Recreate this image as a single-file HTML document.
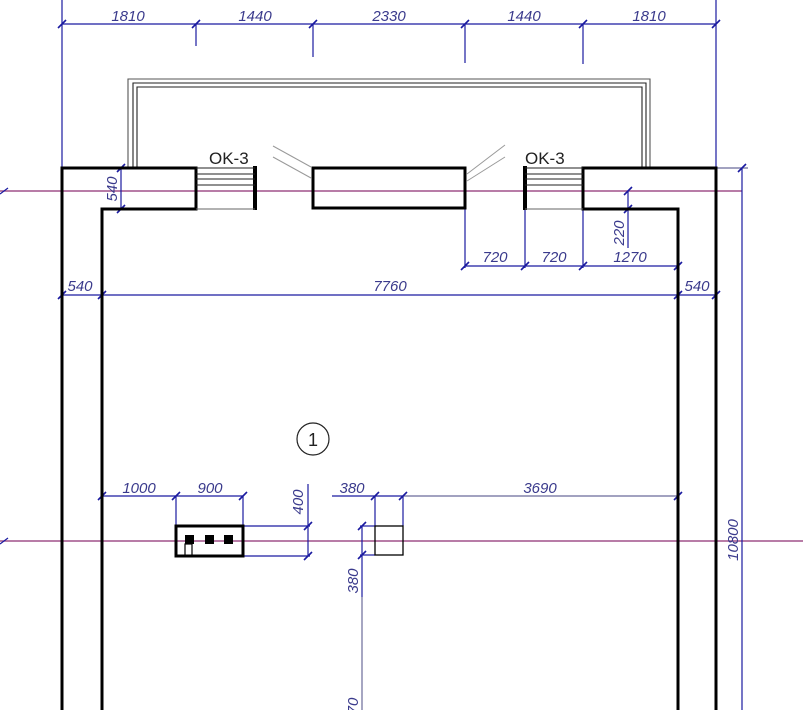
<!DOCTYPE html>
<html><head><meta charset="utf-8"><style>
html,body{margin:0;padding:0;background:#fff;}
svg{display:block;}
.dt{font-family:"Liberation Sans",sans-serif;font-style:italic;font-size:15px;fill:#3a3a8c;}
</style></head><body>
<svg width="803" height="710" viewBox="0 0 803 710" xmlns="http://www.w3.org/2000/svg">
<defs>
<g id="tk"><line x1="-4" y1="4" x2="4" y2="-4" stroke="#1a1aa0" stroke-width="1.6"/></g>
</defs>
<!-- axis lines -->
<line x1="0" y1="191" x2="742" y2="191" stroke="#a0508a" stroke-width="1.5"/>
<line x1="0" y1="541" x2="803" y2="541" stroke="#a0508a" stroke-width="1.5"/>
<line x1="0" y1="194" x2="8" y2="188" stroke="#1a1aa0" stroke-width="1.2"/>
<line x1="0" y1="544" x2="8" y2="538" stroke="#1a1aa0" stroke-width="1.2"/>

<g stroke="#1a1aa0" stroke-width="1.2" fill="none">
<!-- top dim -->
<line x1="62" y1="24" x2="716" y2="24"/>
<line x1="62" y1="0" x2="62" y2="168"/>
<line x1="716" y1="0" x2="716" y2="168"/>
<line x1="196" y1="24" x2="196" y2="46"/>
<line x1="313" y1="24" x2="313" y2="57"/>
<line x1="465" y1="24" x2="465" y2="63"/>
<line x1="583" y1="24" x2="583" y2="64"/>
<!-- right vertical -->
<line x1="742" y1="168" x2="742" y2="710"/>
<line x1="716" y1="168" x2="748" y2="168" stroke="#6a6a9a"/>
<!-- 540 left -->
<line x1="121" y1="168" x2="121" y2="209"/>
<!-- 720/720/1270 -->
<line x1="465" y1="266" x2="678" y2="266"/>
<line x1="465" y1="209" x2="465" y2="268"/>
<line x1="525" y1="209" x2="525" y2="268"/>
<line x1="583" y1="209" x2="583" y2="268"/>
<!-- 220 -->
<line x1="628" y1="191" x2="628" y2="248"/>
<!-- 540 7760 540 -->
<line x1="62" y1="295" x2="716" y2="295"/>
<!-- 1000 900 -->
<line x1="102" y1="496" x2="243" y2="496"/>
<line x1="176" y1="496" x2="176" y2="526"/>
<line x1="243" y1="496" x2="243" y2="526"/>
<!-- 400 -->
<line x1="308" y1="484" x2="308" y2="556"/>
<line x1="243" y1="526" x2="310" y2="526"/>
<line x1="243" y1="556" x2="310" y2="556"/>
<!-- 380 / 3690 -->
<line x1="332" y1="496" x2="403" y2="496"/>
<line x1="403" y1="496" x2="678" y2="496" stroke="#6a6a9a"/>
<line x1="375" y1="496" x2="375" y2="526"/>
<line x1="403" y1="496" x2="403" y2="526"/>
<!-- vertical 380 -->
<line x1="362" y1="526" x2="362" y2="597"/>
<line x1="362" y1="597" x2="362" y2="710" stroke="#6a6a9a"/>
<line x1="360" y1="526" x2="375" y2="526"/>
<line x1="360" y1="555" x2="375" y2="555"/>
</g>
<!-- ticks -->
<g>
<use href="#tk" x="62" y="24"/><use href="#tk" x="196" y="24"/><use href="#tk" x="313" y="24"/>
<use href="#tk" x="465" y="24"/><use href="#tk" x="583" y="24"/><use href="#tk" x="716" y="24"/>
<use href="#tk" x="742" y="168"/>
<use href="#tk" x="121" y="168"/><use href="#tk" x="121" y="209"/>
<use href="#tk" x="465" y="266"/><use href="#tk" x="525" y="266"/><use href="#tk" x="583" y="266"/><use href="#tk" x="678" y="266"/>
<use href="#tk" x="628" y="191"/><use href="#tk" x="628" y="209"/>
<use href="#tk" x="62" y="295"/><use href="#tk" x="102" y="295"/><use href="#tk" x="678" y="295"/><use href="#tk" x="716" y="295"/>
<use href="#tk" x="102" y="496"/><use href="#tk" x="176" y="496"/><use href="#tk" x="243" y="496"/>
<use href="#tk" x="308" y="526"/><use href="#tk" x="308" y="556"/>
<use href="#tk" x="375" y="496"/><use href="#tk" x="403" y="496"/><use href="#tk" x="678" y="496"/>
<use href="#tk" x="362" y="526"/><use href="#tk" x="362" y="555"/>
</g>

<!-- canopy -->
<g fill="none" stroke-width="1.1">
<path d="M128,168 V79 H650 V168" stroke="#555"/>
<path d="M133,168 V83 H646 V168" stroke="#222"/>
<path d="M137,168 V87 H642 V168" stroke="#222"/>
</g>
<!-- diagonals -->
<g stroke="#999" stroke-width="1">
<line x1="273" y1="146" x2="311" y2="167"/><line x1="273" y1="157" x2="311" y2="178"/>
<line x1="467" y1="174" x2="505" y2="145"/><line x1="467" y1="181" x2="505" y2="157"/>
</g>

<!-- walls -->
<g fill="none" stroke="#000" stroke-width="3">
<path d="M62,710 V168 H196 V209 H102 V710"/>
<path d="M716,710 V168 H583 V209 H678 V710"/>
<rect x="313" y="168" width="152" height="40"/>
<line x1="255" y1="166" x2="255" y2="210" stroke-width="4"/>
<line x1="525" y1="166" x2="525" y2="210" stroke-width="4"/>
</g>
<!-- windows -->
<g stroke="#222" stroke-width="1.1">
<line x1="196" y1="168" x2="255" y2="168"/><line x1="196" y1="174" x2="255" y2="174"/>
<line x1="196" y1="179" x2="255" y2="179"/><line x1="196" y1="185" x2="255" y2="185"/>
<line x1="196" y1="209" x2="255" y2="209" stroke="#666"/>
<line x1="525" y1="168" x2="583" y2="168"/><line x1="525" y1="174" x2="583" y2="174"/>
<line x1="525" y1="179" x2="583" y2="179"/><line x1="525" y1="185" x2="583" y2="185"/>
<line x1="525" y1="209" x2="583" y2="209" stroke="#666"/>
</g>
<text x="209" y="164" font-family="Liberation Sans,sans-serif" font-size="17" fill="#222">OK-3</text>
<text x="525" y="164" font-family="Liberation Sans,sans-serif" font-size="17" fill="#222">OK-3</text>

<!-- stove -->
<rect x="176" y="526" width="67" height="30" fill="none" stroke="#000" stroke-width="3"/>
<rect x="185" y="535" width="9" height="9" fill="#000"/>
<rect x="205" y="535" width="9" height="9" fill="#000"/>
<rect x="224" y="535" width="9" height="9" fill="#000"/>
<rect x="185" y="544" width="7" height="12" fill="none" stroke="#000" stroke-width="1.2"/>
<!-- small square -->
<rect x="375" y="526" width="28" height="29" fill="none" stroke="#000" stroke-width="1.3"/>

<!-- circle -->
<circle cx="313" cy="439" r="16" fill="none" stroke="#222" stroke-width="1.2"/>
<text x="313" y="446" text-anchor="middle" font-family="Liberation Sans,sans-serif" font-size="18" fill="#222">1</text>

<!-- labels -->
<text class="dt" x="128" y="21" text-anchor="middle">1810</text>
<text class="dt" x="255" y="21" text-anchor="middle">1440</text>
<text class="dt" x="389" y="21" text-anchor="middle">2330</text>
<text class="dt" x="524" y="21" text-anchor="middle">1440</text>
<text class="dt" x="649" y="21" text-anchor="middle">1810</text>
<text class="dt" x="495" y="262" text-anchor="middle">720</text>
<text class="dt" x="554" y="262" text-anchor="middle">720</text>
<text class="dt" x="630" y="262" text-anchor="middle">1270</text>
<text class="dt" x="80" y="291" text-anchor="middle">540</text>
<text class="dt" x="390" y="291" text-anchor="middle">7760</text>
<text class="dt" x="697" y="291" text-anchor="middle">540</text>
<text class="dt" x="139" y="493" text-anchor="middle">1000</text>
<text class="dt" x="210" y="493" text-anchor="middle">900</text>
<text class="dt" x="352" y="493" text-anchor="middle">380</text>
<text class="dt" x="540" y="493" text-anchor="middle">3690</text>
<text class="dt" transform="translate(117,189) rotate(-90)" text-anchor="middle">540</text>
<text class="dt" transform="translate(624,233) rotate(-90)" text-anchor="middle">220</text>
<text class="dt" transform="translate(303,502) rotate(-90)" text-anchor="middle">400</text>
<text class="dt" transform="translate(358,581) rotate(-90)" text-anchor="middle">380</text>
<text class="dt" transform="translate(358,706) rotate(-90)" text-anchor="middle">70</text>
<text class="dt" transform="translate(738,540) rotate(-90)" text-anchor="middle" font-size="13">10800</text>
</svg>
</body></html>
